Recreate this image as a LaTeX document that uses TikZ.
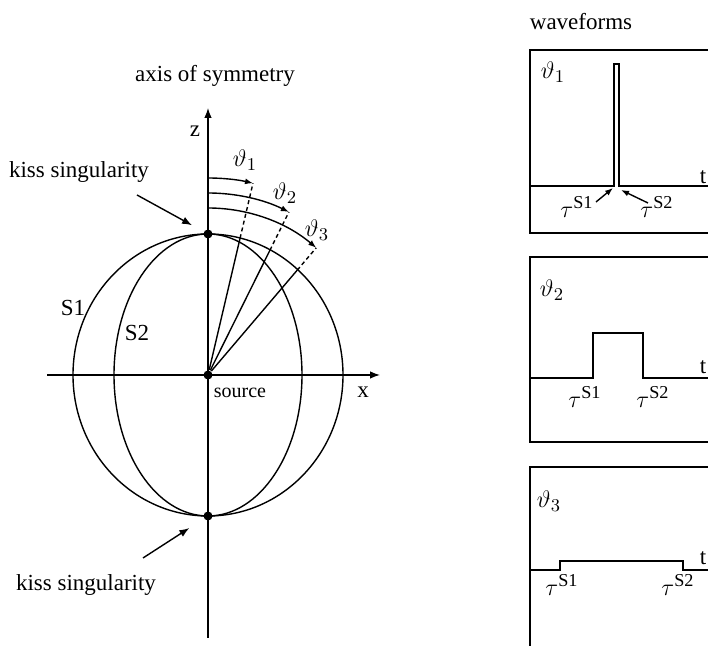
\documentclass[tikz,border=0pt]{standalone}
\usepackage{amsmath}
\usepackage{fontspec}
\setmainfont{Liberation Serif}
\usepackage{tikz}
\usetikzlibrary{arrows.meta, calc}

\begin{document}
\begin{tikzpicture}[x=0.5pt, y=0.5pt, line width=0.7pt,
        lbl/.style={inner sep=0pt, font=\fontsize{11.5}{13}\selectfont},
        math lbl/.style={inner sep=0pt, font=\fontsize{13}{15}\selectfont},
        small lbl/.style={inner sep=0pt, font=\fontsize{10}{12}\selectfont},
        pointer/.style={-{Latex[length=5pt, width=3.8pt]}},
        kiss/.style={circle, fill, inner sep=0pt, minimum size=4.5pt},
        ray ext/.style={dash pattern=on 2pt off 1.5pt},
        wavebox/.style={line width=0.8pt}]
        \path[use as bounding box, clip] (0,0) rectangle (708,646);

        % Axes
        \coordinate (src) at (208,271);
        \coordinate (zbot) at (208,8);
        \coordinate (ztop) at (208,538);
        \coordinate (xleft) at (47,271);
        \coordinate (xright) at (380,271);
        \draw[pointer] (zbot) -- (ztop);
        \draw[pointer] (xleft) -- (xright);

        % Wavefronts S1 and S2
        \draw (src) ellipse[x radius=135, y radius=141];
        \draw (src) ellipse[x radius=94, y radius=141];

        % Nodes
        \node[kiss] (kisstop) at (208,412) {};
        \node[kiss] (kissbot) at (208,130) {};
        \node[kiss] (source) at (src) {};
        \node[lbl] (axislbl) at (215,570) {axis of symmetry};
        \node[lbl] (zlbl) at (195,515) {z};
        \node[lbl] (xlbl) at (363,254) {x};
        \node[small lbl] (srclbl) at (240,253) {source};
        \node[lbl] (s1lbl) at (73,338) {S1};
        \node[lbl] (s2lbl) at (137,313) {S2};
        \node[lbl] (kisslbltop) at (79,474) {kiss singularity};
        \node[lbl] (kisslblbot) at (86,61) {kiss singularity};
        \node[math lbl] (th1lbl) at (245,486) {$\vartheta_1$};
        \node[math lbl] (th2lbl) at (285,453) {$\vartheta_2$};
        \node[math lbl] (th3lbl) at (317,416) {$\vartheta_3$};

        % Rays and angles
        \foreach \ang/\rin/\rout/\k in {76.8/140.5/197/1, 63.6/139.3/182/2, 49.6/137.7/167/3} {
            \coordinate (hit\k) at ($(src)+(\ang:\rin)$);
            \coordinate (end\k) at ($(src)+(\ang:\rout)$);
            \draw (source) -- (hit\k);
            \draw[ray ext] (hit\k) -- (end\k);
            \draw[-{Latex[length=4pt, width=3pt]}] ($(src)+(90:\rout)$) arc[start angle=90, end angle=\ang, radius=\rout];
        }

        % Arrows to kiss points
        \coordinate (kissfromtop) at (137,451);
        \coordinate (kissfrombot) at (143,88);
        \draw[pointer, shorten >=6.5pt] (kissfromtop) -- (kisstop);
        \draw[pointer, shorten >=8.5pt] (kissfrombot) -- (kissbot);

        % Waveforms
        \node[lbl] (wavelbl) at (581,624) {waveforms};

        \draw[wavebox] (530,596) rectangle (740,413);
        \node[math lbl] (wave1lbl) at (553,574) {$\vartheta_1$};
        \draw (530,460) -| (614,582) -| (619,460) -- (740,460);
        \node[lbl] (t1) at (703,469) {t};
        \node[math lbl] (tau1a) at (577,439) {$\tau^{\mathrm{S1}}$};
        \node[math lbl] (tau1b) at (657,439) {$\tau^{\mathrm{S2}}$};
        \coordinate (tip1a) at (613,458);
        \coordinate (tip1b) at (621,456);
        \draw[-{Latex[length=4pt, width=3pt]}] (596,444) -- (tip1a);
        \draw[-{Latex[length=4pt, width=3pt]}] (648,443) -- (tip1b);

        \draw[wavebox] (530,389) rectangle (740,204);
        \node[math lbl] (wave2lbl) at (552,356) {$\vartheta_2$};
        \draw (530,268) -| (593,313) -| (643,268) -- (740,268);
        \node[lbl] (t2) at (703,279) {t};
        \node[math lbl] (tau2a) at (585,249) {$\tau^{\mathrm{S1}}$};
        \node[math lbl] (tau2b) at (653,249) {$\tau^{\mathrm{S2}}$};

        \draw[wavebox] (530,179) rectangle (740,-20);
        \node[math lbl] (wave3lbl) at (549,145) {$\vartheta_3$};
        \draw (530,76) -| (560,85) -| (683,76) -- (740,76);
        \node[lbl] (t3) at (703,88) {t};
        \node[math lbl] (tau3a) at (562,61) {$\tau^{\mathrm{S1}}$};
        \node[math lbl] (tau3b) at (678,61) {$\tau^{\mathrm{S2}}$};
    \end{tikzpicture}
\end{document}
